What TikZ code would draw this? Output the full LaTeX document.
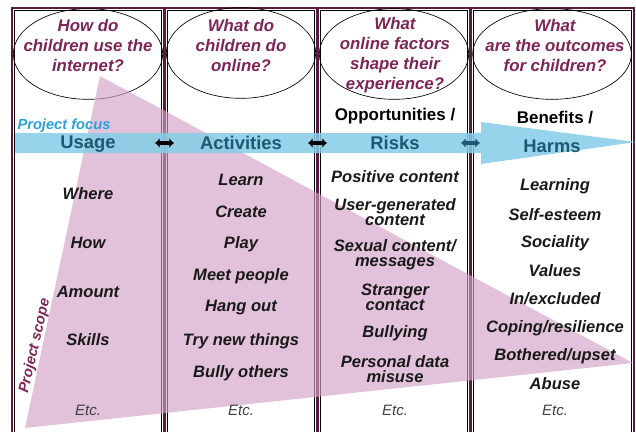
\documentclass[tikz,border=0pt]{standalone}
\usepackage{fontspec}
\setmainfont{Liberation Sans}
\usetikzlibrary{shapes.geometric,arrows.meta}

\definecolor{framered}{HTML}{5B1A40}
\definecolor{qmaroon}{HTML}{7E2456}
\definecolor{bandblue}{HTML}{85CDE7}
\definecolor{bandtext}{HTML}{1D5875}
\definecolor{focusblue}{HTML}{29A3D6}
\definecolor{scopepink}{HTML}{D2A2C6}

\begin{document}
\begin{tikzpicture}[x=0.75pt,y=-0.75pt,
  col/.style={draw=framered,line width=2.2pt},
  colin/.style={draw=black,line width=0.6pt},
  qring/.style={ellipse,draw=black,line width=0.5pt,minimum width=112pt,minimum height=68pt,inner sep=0pt},
  qtext/.style={align=center,text=qmaroon,font=\fontsize{12.6}{15}\selectfont\bfseries\itshape},
  bandlbl/.style={text=bandtext,font=\fontsize{13.8}{16}\selectfont\bfseries},
  head/.style={font=\fontsize{12.7}{15}\selectfont\bfseries},
  item/.style={align=center,text=black!90,font=\fontsize{12.4}{11.3}\selectfont\bfseries\itshape},
  etc/.style={text=black!75,font=\fontsize{11.3}{13}\selectfont\itshape},
  link/.style={line width=2.8pt,{Latex[length=3.5pt,width=7.5pt]}-{Latex[length=3.5pt,width=7.5pt]}}]
\useasboundingbox (0,0) rectangle (636,432);
\clip (0,0) rectangle (636,432);

% column frames
\foreach \l/\r in {12/164,165/317,318/470,471/634}{
  \draw[col] (\l,8) rectangle (\r,450);
  \draw[colin] (\l+2.5,10.5) rectangle (\r-2.5,450);
}

% question rings
\node[qring] (r1) at (88,54) {};
\node[qring] (r2) at (241,53) {};
\node[qring] (r3) at (394,54) {};
\node[qring,minimum width=119pt] (r4) at (552,54) {};

\node[qtext] (q1) at (88,45) {How do\\children use the\\internet?};
\node[qtext] (q2) at (241,45) {What do\\children do\\online?};
\node[qtext] (q3) at (395,55) {What\\online factors\\shape their\\experience?};
\node[qtext] (q4) at (555,45) {What\\are the outcomes\\for children?};

% project scope
\fill[scopepink,opacity=0.65] (100,76) -- (633,363) -- (25,428) -- cycle;

% project focus band
\fill[bandblue,opacity=0.85] (15,133) -- (481,133) -- (481,122) -- (636,142)
  -- (481,164) -- (481,153) -- (15,153) -- cycle;
\draw[link] (155,143) -- (174,143);
\draw[link] (308,143) -- (327,143);
\draw[link,bandtext] (461,143) -- (480,143);

\node[text=focusblue,font=\fontsize{11}{13}\selectfont\bfseries\itshape] (pf) at (64,126) {Project focus};
\node[rotate=77,text=qmaroon,font=\fontsize{11}{13}\selectfont\bfseries\itshape] (ps) at (35,346) {Project scope};

\node[bandlbl] (usage) at (88,144) {Usage};
\node[bandlbl] (act) at (241,143) {Activities};
\node[head] (opp) at (395,116) {Opportunities /};
\node[bandlbl] (risks) at (395,143) {Risks};
\node[head] (ben) at (555,118) {Benefits /};
\node[bandlbl] (harms) at (552,146) {Harms};

% usage
\node[item] (u1) at (88,194) {Where};
\node[item] (u2) at (88,243) {How};
\node[item] (u3) at (88,292) {Amount};
\node[item] (u4) at (88,340) {Skills};
\node[etc] (u5) at (88,410) {Etc.};

% activities
\node[item] (a1) at (241,180) {Learn};
\node[item] (a2) at (241,212) {Create};
\node[item] (a3) at (241,244) {Play};
\node[item] (a4) at (241,276) {Meet people};
\node[item] (a5) at (241,308) {Hang out};
\node[item] (a6) at (241,341) {Try new things};
\node[item] (a7) at (241,373) {Bully others};
\node[etc] (a8) at (241,410) {Etc.};

% risks
\node[item] (k1) at (395,177) {Positive content};
\node[item] (k2) at (395,212) {User-generated\\content};
\node[item] (k3) at (395,255) {Sexual content/\\messages};
\node[item] (k4) at (395,297) {Stranger\\contact};
\node[item] (k5) at (395,333) {Bullying};
\node[item] (k6) at (395,369) {Personal data\\misuse};
\node[etc] (k7) at (395,410) {Etc.};

% harms
\node[item] (h1) at (555,186) {Learning};
\node[item] (h2) at (555,215) {Self-esteem};
\node[item] (h3) at (555,243) {Sociality};
\node[item] (h4) at (555,271) {Values};
\node[item] (h5) at (555,299) {In/excluded};
\node[item] (h6) at (555,328) {Coping/resilience};
\node[item] (h7) at (555,356) {Bothered/upset};
\node[item] (h8) at (555,384) {Abuse};
\node[etc] (h9) at (555,410) {Etc.};
\end{tikzpicture}
\end{document}
